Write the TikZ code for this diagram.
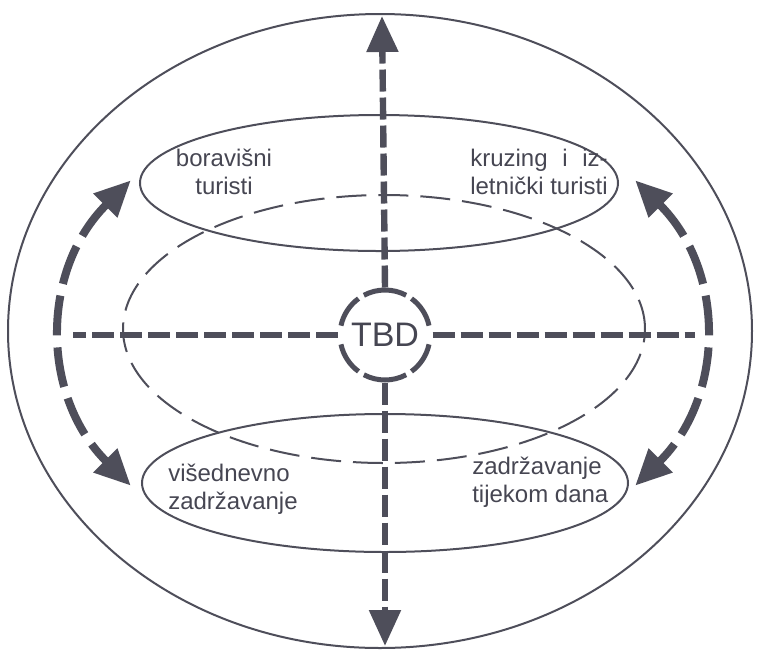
\documentclass[tikz,border=0pt]{standalone}
\usepackage{fontspec}
\setmainfont{Liberation Sans}
\usetikzlibrary{arrows.meta}
\definecolor{ink}{HTML}{4E4E5A}
\definecolor{txt}{HTML}{464652}
\newlength\ltw
\begin{document}
\begin{tikzpicture}[x=0.75pt,y=-0.75pt,
  outline/.style={draw=ink, line width=1.5pt},
  dashell/.style={draw=ink, line width=1.5pt, dash pattern=on 22.5pt off 9pt},
  axis/.style={draw=ink, line width=4.8pt, dash pattern=on 16.5pt off 4.5pt},
  axisarrow/.style={axis, -{Triangle[length=27pt,width=23pt]}},
  curvarrow/.style={draw=ink, line width=6pt, dash pattern=on 30pt off 9pt,
     {Triangle[length=27pt,width=24pt]}-{Triangle[length=27pt,width=24pt]}},
  ring/.style={draw=ink, line width=3.75pt},
  lbl/.style={font=\fontsize{18}{21}\selectfont, text=txt, inner sep=0pt}]
\useasboundingbox (0,0) rectangle (758,651);
% ellipses
\draw[outline] (380,331) ellipse [x radius=279pt, y radius=237.75pt];
\draw[outline] (379,183) ellipse [x radius=179.25pt, y radius=51pt];
\draw[dashell] (384,329) ellipse [x radius=195.75pt, y radius=100.5pt];
\draw[outline] (385,483) ellipse [x radius=182.25pt, y radius=51.75pt];
% centre
\node[circle, minimum size=71.25pt, inner sep=0pt, outer sep=0pt,
      font=\fontsize{25.5}{28}\selectfont, text=txt] (c) at (385,335) {TBD};
\foreach \a/\b in {62/118, 12/54, -54/-12, -118/-62, 192/234, 126/168}
  \draw[ring] (c.center) ++(\a:33.75pt) arc[start angle=\a, end angle=\b, radius=33.75pt];
% axes
\coordinate (top) at (382,16);
\coordinate (bot) at (385,646);
\coordinate (lft) at (73,335);
\coordinate (rgt) at (695,335);
\draw[axisarrow] (c.north) -- (top);
\draw[axisarrow] (c.south) -- (bot);
\draw[axis] (c.west) -- (lft);
\draw[axis] (c.east) -- (rgt);
% curved arrows
\coordinate (ac) at (383,333);
\draw[curvarrow] (ac) ++(142:240pt and 186pt) arc[start angle=142, end angle=218, x radius=240pt, y radius=186pt];
\draw[curvarrow] (ac) ++(38:240pt and 186pt) arc[start angle=38, end angle=-38, x radius=240pt, y radius=186pt];
% labels
\node[lbl, align=center] (bor) at (224,172) {boravišni\\turisti};
\node[lbl, align=left] (kru) at (539,172) {\settowidth\ltw{letnički turisti}\makebox[\ltw][s]{kruzing\hfill i\hfill iz-}\\letnički turisti};
\node[lbl, align=left, anchor=west] (vis) at (168,489) {višednevno\\zadržavanje};
\node[lbl, align=left, anchor=west] (zad) at (472,482) {zadržavanje\\tijekom dana};
\end{tikzpicture}
\end{document}
